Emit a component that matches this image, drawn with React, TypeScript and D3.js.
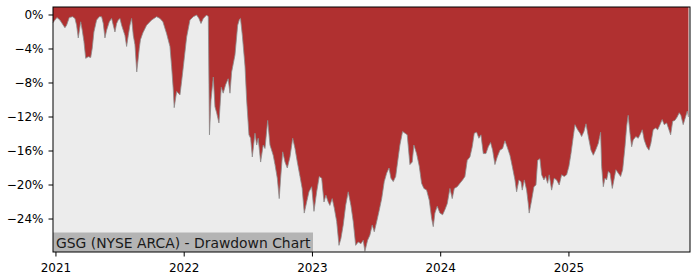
import React from "react";
import * as d3 from "d3";

// time as fractional year, drawdown in percent
const years: number[] = [
  2020.977, 2020.992, 2021.008, 2021.031, 2021.052, 2021.070, 2021.083, 2021.104, 2021.130, 2021.148,
  2021.161, 2021.174, 2021.193, 2021.205, 2021.218, 2021.232, 2021.252, 2021.271, 2021.283, 2021.296,
  2021.317, 2021.338, 2021.356, 2021.369, 2021.382, 2021.395, 2021.416, 2021.434, 2021.447, 2021.460,
  2021.473, 2021.486, 2021.499, 2021.512, 2021.525, 2021.538, 2021.551, 2021.564, 2021.577, 2021.590,
  2021.603, 2021.616, 2021.630, 2021.650, 2021.659, 2021.678, 2021.707, 2021.746, 2021.785, 2021.811,
  2021.834, 2021.863, 2021.889, 2021.902, 2021.915, 2021.922, 2021.941, 2021.955, 2021.967, 2021.980,
  2021.993, 2022.019, 2022.045, 2022.071, 2022.097, 2022.115, 2022.131, 2022.149, 2022.175, 2022.188,
  2022.197, 2022.209, 2022.227, 2022.240, 2022.253, 2022.271, 2022.289, 2022.304, 2022.323, 2022.343,
  2022.357, 2022.370, 2022.396, 2022.417, 2022.431, 2022.439, 2022.454, 2022.474, 2022.487, 2022.505,
  2022.518, 2022.531, 2022.552, 2022.565, 2022.577, 2022.596, 2022.616, 2022.630, 2022.651, 2022.669,
  2022.694, 2022.708, 2022.726, 2022.741, 2022.752, 2022.768, 2022.786, 2022.804, 2022.825, 2022.846,
  2022.864, 2022.882, 2022.903, 2022.920, 2022.936, 2022.955, 2022.973, 2022.994, 2023.012, 2023.033,
  2023.053, 2023.072, 2023.090, 2023.105, 2023.123, 2023.136, 2023.154, 2023.170, 2023.189, 2023.207,
  2023.222, 2023.240, 2023.259, 2023.279, 2023.300, 2023.318, 2023.337, 2023.357, 2023.378, 2023.396,
  2023.409, 2023.430, 2023.448, 2023.466, 2023.482, 2023.501, 2023.519, 2023.540, 2023.560, 2023.579,
  2023.597, 2023.612, 2023.630, 2023.649, 2023.664, 2023.682, 2023.703, 2023.721, 2023.739, 2023.760,
  2023.778, 2023.791, 2023.812, 2023.833, 2023.851, 2023.869, 2023.890, 2023.911, 2023.929, 2023.942,
  2023.955, 2023.973, 2023.994, 2024.015, 2024.033, 2024.051, 2024.072, 2024.090, 2024.106, 2024.129,
  2024.150, 2024.171, 2024.189, 2024.207, 2024.228, 2024.246, 2024.262, 2024.280, 2024.298, 2024.314,
  2024.332, 2024.353, 2024.371, 2024.389, 2024.405, 2024.423, 2024.441, 2024.462, 2024.483, 2024.501,
  2024.520, 2024.540, 2024.558, 2024.579, 2024.592, 2024.610, 2024.626, 2024.636, 2024.652, 2024.670,
  2024.683, 2024.690, 2024.709, 2024.727, 2024.743, 2024.756, 2024.774, 2024.787, 2024.805, 2024.818,
  2024.834, 2024.846, 2024.865, 2024.885, 2024.904, 2024.924, 2024.943, 2024.963, 2024.982, 2025.000,
  2025.016, 2025.034, 2025.047, 2025.068, 2025.086, 2025.099, 2025.117, 2025.133, 2025.151, 2025.172,
  2025.190, 2025.208, 2025.229, 2025.247, 2025.255, 2025.268, 2025.281, 2025.294, 2025.307, 2025.320,
  2025.338, 2025.351, 2025.366, 2025.384, 2025.403, 2025.419, 2025.437, 2025.450, 2025.462, 2025.476,
  2025.489, 2025.501, 2025.522, 2025.540, 2025.554, 2025.572, 2025.587, 2025.606, 2025.624, 2025.639,
  2025.657, 2025.676, 2025.692, 2025.710, 2025.727, 2025.743, 2025.762, 2025.780, 2025.793, 2025.809,
  2025.826, 2025.844, 2025.860, 2025.873, 2025.891, 2025.905, 2025.923, 2025.932,
];

const drawdown: number[] = [
  -0.9, -0.6, -0.3, -0.6, -1.1, -1.5, -1.2, -0.3, -0.2, -0.4,
  -1.2, -2.7, -0.8, -1.8, -3.1, -5.1, -4.9, -5.0, -3.9, -2.0,
  -0.6, -0.2, -0.2, -1.0, -2.7, -1.8, -0.8, -0.4, -1.2, -2.0,
  -1.0, -0.6, -0.4, -1.2, -1.8, -2.4, -3.7, -2.4, -1.2, -0.4,
  -2.4, -3.5, -6.7, -3.9, -2.9, -2.1, -1.2, -0.6, -0.2, -0.4,
  -0.8, -2.2, -3.7, -6.1, -8.8, -10.9, -9.0, -9.2, -9.4, -7.8,
  -6.1, -2.6, -0.6, -0.2, 0.0, -0.4, -1.0, -0.4, 0.0, -0.2,
  -14.1, -10.0, -7.3, -10.8, -11.5, -12.7, -8.5, -9.2, -8.2, -7.5,
  -9.2, -6.7, -4.7, -1.2, -0.5, -0.4, -2.5, -6.0, -10.0, -14.1,
  -14.5, -16.7, -13.9, -15.3, -14.5, -17.3, -15.3, -15.7, -12.4, -15.3,
  -16.5, -17.6, -19.2, -21.6, -19.2, -16.1, -17.3, -18.0, -16.7, -14.5,
  -15.7, -17.3, -19.0, -20.4, -23.3, -22.0, -20.8, -20.2, -23.1, -20.8,
  -19.0, -19.2, -22.0, -21.2, -22.0, -22.4, -21.6, -22.7, -24.3, -27.1,
  -26.3, -24.7, -22.4, -20.8, -22.4, -24.3, -27.1, -26.7, -26.9, -26.5,
  -27.8, -26.5, -25.9, -24.7, -25.5, -24.3, -23.1, -21.6, -19.6, -18.6,
  -18.0, -19.2, -19.6, -19.0, -17.3, -15.3, -13.7, -13.9, -14.1, -17.6,
  -17.3, -15.3, -16.3, -17.8, -19.8, -20.4, -20.6, -21.8, -23.9, -24.9,
  -23.3, -22.5, -23.3, -23.5, -22.9, -22.2, -20.4, -21.6, -20.4, -20.2,
  -19.8, -19.4, -19.0, -17.1, -16.7, -15.5, -13.9, -13.8, -14.5, -14.1,
  -16.3, -16.3, -15.5, -15.0, -15.9, -17.6, -16.7, -15.9, -15.7, -14.8,
  -15.6, -16.5, -17.8, -19.4, -20.8, -19.4, -19.6, -20.6, -19.4, -20.6,
  -22.2, -23.3, -21.8, -20.2, -20.0, -17.1, -16.9, -18.8, -19.4, -19.0,
  -19.8, -18.8, -20.6, -19.2, -19.4, -20.0, -18.8, -19.0, -18.8, -17.8,
  -16.3, -14.3, -12.9, -13.5, -13.9, -14.3, -13.7, -12.8, -14.3, -15.9,
  -16.5, -15.9, -15.1, -13.8, -17.8, -20.2, -19.2, -19.4, -18.4, -18.6,
  -20.4, -19.4, -18.2, -18.6, -19.0, -18.2, -15.5, -13.1, -11.8, -13.9,
  -15.5, -14.7, -14.3, -14.5, -14.1, -13.5, -14.7, -15.5, -15.9, -15.1,
  -13.5, -13.3, -13.5, -12.9, -12.3, -12.9, -12.7, -13.5, -14.1, -12.5,
  -12.4, -12.0, -11.5, -11.8, -12.9, -12.2, -11.3, -12.0,
];

const yTicks: number[] = [0, -4, -8, -12, -16, -20, -24];
const xTicks: number[] = [2021, 2022, 2023, 2024, 2025];
const title = "GSG (NYSE ARCA) - Drawdown Chart";

const W = 700;
const H = 280;
const M = { left: 53, right: 10, top: 7, bottom: 28 };
const FONT = "DejaVu Sans, sans-serif";

export default function App() {
  const pw = W - M.left - M.right;
  const ph = H - M.top - M.bottom;
  const x = d3.scaleLinear().domain([2020.977, 2025.944]).range([M.left, M.left + pw]);
  const y = d3.scaleLinear().domain([-27.88, 0.94]).range([M.top + ph, M.top]);

  const data = years.map((t, i) => ({ t, v: drawdown[i] }));
  const area = d3
    .area<{ t: number; v: number }>()
    .x((d) => x(d.t))
    .y0(M.top)
    .y1((d) => y(d.v));
  const line = d3
    .line<{ t: number; v: number }>()
    .x((d) => x(d.t))
    .y((d) => y(d.v));

  const fmt = (v: number) => (v < 0 ? "\u2212" + Math.abs(v) : String(v)) + "%";

  return (
    <svg
      width={W}
      height={H}
      style={{ position: "absolute", left: 0, top: 0, background: "#fff" }}
      fontFamily={FONT}
    >
      <rect x={M.left} y={M.top} width={pw} height={ph} fill="#ececec" />
      <path d={area(data) || ""} fill="#b03030" />
      <path d={line(data) || ""} fill="none" stroke="#8c8c8c" strokeWidth={0.8} />
      <rect x={M.left} y={M.top + ph - 19.5} width={260} height={19.5} fill="#b4b4b4" />
      <text x={M.left + 3} y={M.top + ph - 4.5} fontSize={13.9} fill="#1a1a1a">
        {title}
      </text>
      <rect x={M.left} y={M.top} width={pw} height={ph} fill="none" stroke="#000" strokeWidth={1} />
      {yTicks.map((v) => (
        <g key={v}>
          <line x1={M.left - 4.5} x2={M.left} y1={y(v)} y2={y(v)} stroke="#000" strokeWidth={1} />
          <text x={M.left - 9.5} y={y(v)} dy="0.35em" textAnchor="end" fontSize={12} fill="#000">
            {fmt(v)}
          </text>
        </g>
      ))}
      {xTicks.map((t) => (
        <g key={t}>
          <line x1={x(t)} x2={x(t)} y1={M.top + ph} y2={M.top + ph + 4.5} stroke="#000" strokeWidth={1} />
          <text x={x(t)} y={M.top + ph + 19.5} textAnchor="middle" fontSize={12} fill="#000">
            {t}
          </text>
        </g>
      ))}
    </svg>
  );
}
